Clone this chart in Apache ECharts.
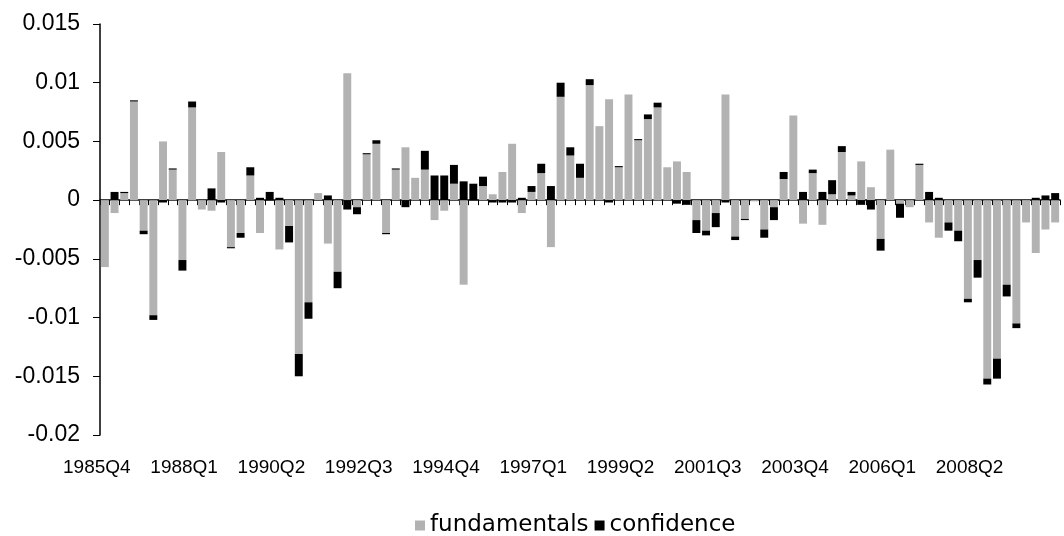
<!DOCTYPE html>
<html>
<head>
<meta charset="utf-8">
<script src="https://cdn.jsdelivr.net/npm/echarts@6/dist/echarts.min.js"></script>
<style>
  html, body { margin: 0; padding: 0; background: #fff; }
  #chart { width: 1064px; height: 536px; }
</style>
</head>
<body>
<div id="chart"></div>
<script>
// quarters 1985Q4 .. 2010Q2
const quarters = [];
for (let y = 1985, q = 4; quarters.length < 99; ) {
  quarters.push(y + 'Q' + q);
  q++;
  if (q > 4) { q = 1; y++; }
}

const fundamentals = [
  -0.0057, -0.0011, 0.0006, 0.0084, -0.0026, -0.0098, 0.0050, 0.0026, -0.0051, 0.0079,
  -0.0008, -0.0009, 0.0041, -0.0040, -0.0028, 0.0021, -0.0028, 0.0000, -0.0042, -0.0022,
  -0.0131, -0.0087, 0.0006, -0.0037, -0.0061, 0.0108, -0.0006, 0.0039, 0.0048, -0.0028,
  0.0026, 0.0045, 0.0019, 0.0026, -0.0017, -0.0009, 0.0014, -0.0072, 0.0000, 0.0012,
  0.0005, 0.0024, 0.0048, -0.0011, 0.0007, 0.0023, -0.0040, 0.0088, 0.0038, 0.0019,
  0.0098, 0.0063, 0.0086, 0.0028, 0.0090, 0.0051, 0.0069, 0.0079, 0.0028, 0.0033,
  0.0024, -0.0017, -0.0026, -0.0011, 0.0090, -0.0031, -0.0016, -0.0001, -0.0025, -0.0006,
  0.0018, 0.0072, -0.0020, 0.0023, -0.0021, 0.0005, 0.0041, 0.0004, 0.0033, 0.0011,
  -0.0033, 0.0043, -0.0003, -0.0006, 0.0030, -0.0019, -0.0032, -0.0019, -0.0026, -0.0084,
  -0.0051, -0.0152, -0.0135, -0.0072, -0.0105, -0.0019, -0.0045, -0.0025, -0.0019
];

const confidence = [
  0.0000, 0.0007, 0.0001, 0.0001, -0.0003, -0.0004, -0.0002, 0.0001, -0.0009, 0.0005,
  0.0000, 0.0010, -0.0002, -0.0001, -0.0004, 0.0007, 0.0002, 0.0007, 0.0002, -0.0014,
  -0.0019, -0.0014, 0.0000, 0.0004, -0.0014, -0.0008, -0.0006, 0.0001, 0.0003, -0.0001,
  0.0001, -0.0006, 0.0000, 0.0016, 0.0021, 0.0021, 0.0016, 0.0016, 0.0014, 0.0008,
  -0.0002, -0.0002, -0.0002, 0.0002, 0.0005, 0.0008, 0.0012, 0.0012, 0.0007, 0.0012,
  0.0005, 0.0000, -0.0002, 0.0001, 0.0000, 0.0001, 0.0004, 0.0004, 0.0000, -0.0003,
  -0.0004, -0.0011, -0.0004, -0.0012, -0.0002, -0.0003, -0.0001, 0.0000, -0.0007, -0.0011,
  0.0006, 0.0000, 0.0007, 0.0003, 0.0007, 0.0012, 0.0005, 0.0003, -0.0004, -0.0008,
  -0.0010, 0.0000, -0.0012, 0.0000, 0.0001, 0.0007, 0.0002, -0.0007, -0.0009, -0.0003,
  -0.0015, -0.0005, -0.0017, -0.0010, -0.0004, 0.0000, 0.0002, 0.0004, 0.0006
];

const yTicks = { min: -0.02, max: 0.015, interval: 0.005 };

const chart = echarts.init(document.getElementById('chart'));

const font = 'Liberation Sans, Arial, sans-serif';

const option = {
  animation: false,
  backgroundColor: '#fff',
  grid: { left: 100, right: 4, top: 24, bottom: 101 },
  legend: {
    top: 509,
    left: 410,
    itemWidth: 10,
    itemHeight: 10,
    itemGap: 6,
    icon: 'rect',
    textStyle: { fontFamily: 'DejaVu Sans, sans-serif', fontSize: 23, color: '#000' },
    data: ['fundamentals', 'confidence']
  },
  xAxis: [
    {
      type: 'category',
      data: quarters,
      axisLine: { onZero: true, lineStyle: { color: '#000', width: 1.5 } },
      axisTick: { show: true, interval: 0, length: 5, lineStyle: { color: '#000' } },
      axisLabel: { show: false }
    },
    {
      type: 'category',
      data: quarters,
      position: 'bottom',
      axisLine: { show: false, onZero: false },
      axisTick: { show: false },
      axisLabel: {
        interval: 8,
        margin: 23,
        padding: [0, 16, 0, 0],
        fontFamily: font,
        fontSize: 19,
        color: '#000'
      }
    }
  ],
  yAxis: {
    type: 'value',
    min: yTicks.min,
    max: yTicks.max,
    interval: yTicks.interval,
    splitLine: { show: false },
    axisLine: { show: true, lineStyle: { color: '#000', width: 1.5 } },
    axisTick: { show: true, length: 7, lineStyle: { color: '#000' } },
    axisLabel: { fontFamily: font, fontSize: 23, color: '#000', margin: 20 }
  },
  series: [
    {
      name: 'fundamentals',
      type: 'bar',
      stack: 'total',
      barWidth: '82%',
      itemStyle: { color: '#b2b2b2' },
      data: fundamentals
    },
    {
      name: 'confidence',
      type: 'bar',
      stack: 'total',
      barWidth: '82%',
      itemStyle: { color: '#000' },
      data: confidence
    }
  ]
};

chart.setOption(option);
</script>
</body>
</html>
